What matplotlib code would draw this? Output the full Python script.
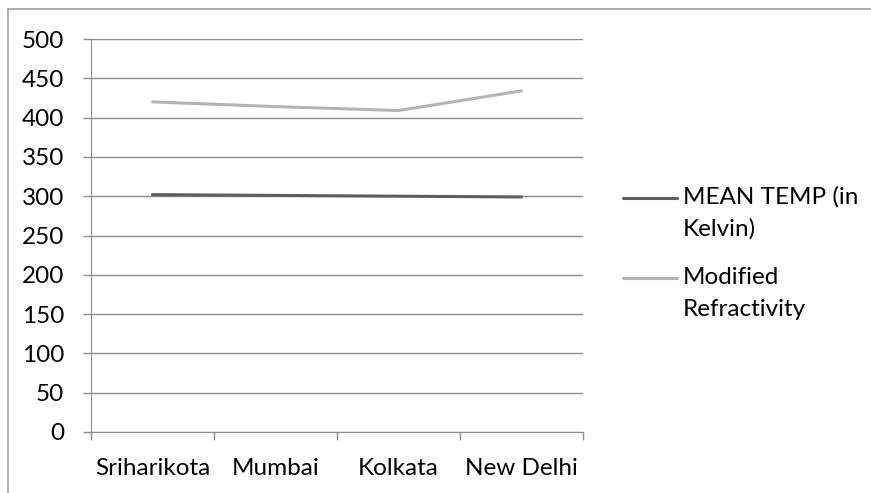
import matplotlib
matplotlib.use('Agg')
import matplotlib.pyplot as plt
from matplotlib.lines import Line2D
import numpy as np

plt.rcParams['font.family'] = ['Lato', 'DejaVu Sans']

# station data
cities = ['Sriharikota', 'Mumbai', 'Kolkata', 'New Delhi']
mean_temp_k = [302, 301, 300, 299]
modified_refractivity = [420, 414, 409, 434]
series_names = [['MEAN TEMP (in', 'Kelvin)'], ['Modified', 'Refractivity']]

dark = '#5e5e5e'
light = '#b4b4b4'
axis_col = '#8c8c8c'
fs = 17.5
px = 0.72  # points per pixel at 100 dpi

fig = plt.figure(figsize=(8.71, 4.93), dpi=100)
W, H = 871, 493
ax = fig.add_axes([91/W, 1-432/H, (583-91)/W, (432-39)/H])

x = np.arange(len(cities))
ax.plot(x, mean_temp_k, color=dark, lw=2.2, solid_capstyle='round')
ax.plot(x, modified_refractivity, color=light, lw=2.2, solid_capstyle='round')

ax.set_xlim(-0.5, len(cities)-0.5)
ax.set_ylim(0, 500)
ax.set_yticks(np.arange(0, 501, 50))
ax.yaxis.grid(True, color=axis_col, lw=1)
ax.set_axisbelow(True)

# category labels in the middle, tick marks on the boundaries
ax.set_xticks(x)
ax.set_xticklabels(cities, fontsize=fs)
ax.set_xticks(np.arange(-0.5, len(cities), 1), minor=True)
ax.tick_params(axis='x', which='major', length=0, pad=26*px)
ax.tick_params(axis='x', which='minor', length=8*px, color=axis_col, width=1)
ax.tick_params(axis='y', length=8*px, color=axis_col, width=1, labelsize=fs, pad=19*px)

for s in ['top', 'right']:
    ax.spines[s].set_visible(False)
ax.spines['left'].set_color(axis_col)
ax.spines['bottom'].set_color(axis_col)

# outer chart border (top and left)
fig.add_artist(Line2D([8/W, 8/W], [0, 1-9/H], color='#a0a0a0', lw=1.2))
fig.add_artist(Line2D([8/W, 1], [1-9/H, 1-9/H], color='#a0a0a0', lw=1.2))

# legend, two text rows per entry
for lines, col, yy in zip(series_names, [dark, light], [198, 278]):
    fig.add_artist(Line2D([623/W, 677/W], [1-yy/H, 1-yy/H], color=col, lw=2.2, solid_capstyle='round'))
    for i, t in enumerate(lines):
        fig.text(683/W, 1-(yy-1+32*i)/H, t, fontsize=fs, va='center', ha='left')

fig.savefig('out.png', dpi=100, facecolor='white')
